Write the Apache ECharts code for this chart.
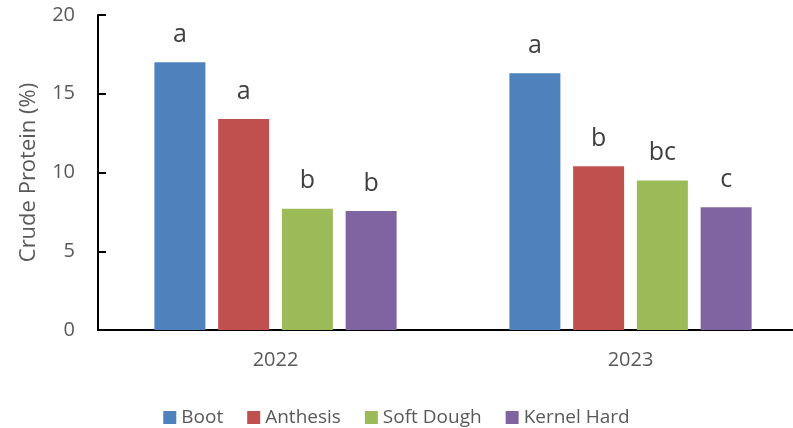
<!DOCTYPE html>
<html>
<head>
<meta charset="utf-8">
<script src="https://cdn.jsdelivr.net/npm/echarts@6/dist/echarts.min.js"></script>
<style>
  html, body { margin: 0; padding: 0; background: #fff; }
  #chart { width: 793px; height: 428px; }
</style>
</head>
<body>
<div id="chart"></div>
<script>
// Crude protein by growth stage and year
const years = ['2022', '2023'];
const stages = ['Boot', 'Anthesis', 'Soft Dough', 'Kernel Hard'];
const boot = [17.0, 16.3];
const anthesis = [13.4, 10.4];
const softDough = [7.7, 9.5];
const kernelHard = [7.55, 7.8];
// Mean separation letters shown above each bar
const bootLetters = ['a', 'a'];
const anthesisLetters = ['a', 'b'];
const softDoughLetters = ['b', 'bc'];
const kernelHardLetters = ['b', 'c'];
const yTicks = [0, 5, 10, 15, 20];

const colors = ['#4F81BD', '#C0504D', '#9BBB59', '#8064A2'];
const FONT = '"Open Sans", "Liberation Sans", sans-serif';

function makeSeries(name, values, letters, color) {
  return {
    name: name,
    type: 'bar',
    data: values,
    barWidth: 51,
    barGap: '25%',
    itemStyle: { color: color },
    label: {
      show: true,
      position: 'top',
      distance: 15,
      fontFamily: FONT,
      fontSize: 25,
      color: '#404040',
      formatter: p => letters[p.dataIndex]
    }
  };
}

const chart = echarts.init(document.getElementById('chart'), null, { renderer: 'canvas' });
chart.setOption({
  animation: false,
  textStyle: { fontFamily: FONT },
  // the plot area runs past the right edge of the canvas
  grid: { left: 98, top: 15, width: 710, bottom: 98, containLabel: false, outerBoundsMode: 'none' },
  legend: {
    data: stages,
    top: 403,
    left: 'center',
    itemWidth: 13,
    itemHeight: 13,
    itemGap: 24,
    icon: 'rect',
    textStyle: { fontFamily: FONT, fontSize: 19, color: '#595959', padding: [0, 0, 0, 0] }
  },
  xAxis: {
    type: 'category',
    data: years,
    axisLine: { lineStyle: { color: '#000', width: 2 } },
    axisTick: { show: false },
    axisLabel: { fontFamily: FONT, fontSize: 20, color: '#595959', margin: 20 }
  },
  yAxis: {
    type: 'value',
    min: yTicks[0],
    max: yTicks[yTicks.length - 1],
    interval: 5,
    name: 'Crude Protein (%)',
    nameLocation: 'middle',
    nameGap: 58,
    nameTextStyle: { fontFamily: FONT, fontSize: 22, color: '#595959' },
    axisLine: { show: true, lineStyle: { color: '#000', width: 2 } },
    axisTick: { show: true, inside: true, length: 8, lineStyle: { color: '#000', width: 2 } },
    axisLabel: { fontFamily: FONT, fontSize: 20, color: '#595959', margin: 23 },
    splitLine: { show: false }
  },
  series: [
    makeSeries(stages[0], boot, bootLetters, colors[0]),
    makeSeries(stages[1], anthesis, anthesisLetters, colors[1]),
    makeSeries(stages[2], softDough, softDoughLetters, colors[2]),
    makeSeries(stages[3], kernelHard, kernelHardLetters, colors[3])
  ]
});
</script>
</body>
</html>
